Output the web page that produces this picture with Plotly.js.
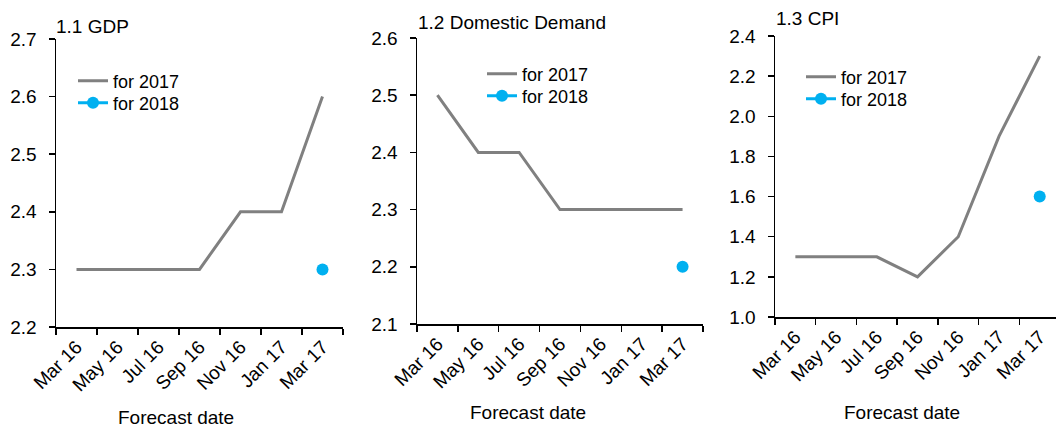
<!DOCTYPE html>
<html>
<head>
<meta charset="utf-8">
<script src="https://cdn.plot.ly/plotly-3.0.1.min.js"></script>
<style>html,body{margin:0;padding:0;background:#fff;}#chart{width:1056px;height:429px;}</style>
</head>
<body>
<div id="chart"></div>
<script>
const forecastDates = ["Mar 16","May 16","Jul 16","Sep 16","Nov 16","Jan 17","Mar 17"];
const panelTitles = ["1.1 GDP","1.2 Domestic Demand","1.3 CPI"];
const seriesNames = ["for 2017","for 2018"];
const gdp2017 = [2.3,2.3,2.3,2.3,2.4,2.4,2.6];
const gdp2018 = [null,null,null,null,null,null,2.3];
const dd2017 = [2.5,2.4,2.4,2.3,2.3,2.3,2.3];
const dd2018 = [null,null,null,null,null,null,2.2];
const cpi2017 = [1.3,1.3,1.3,1.2,1.4,1.9,2.3];
const cpi2018 = [null,null,null,null,null,null,1.6];

const W = 1056, H = 429;
const px = v => v / W;
const py = v => 1 - v / H;
const GRAY = "#808080", CYAN = "#00B0F0";
const FONT = "Liberation Sans, Arial, sans-serif";
const FS = 19;
const LFS = 18;

const panels = [
  {a17: gdp2017, a18: gdp2018, xd: [56, 343], yd: [39, 327], yr: [2.2, 2.7], dt: 0.1, xr: [-0.5, 6.5],
   tx: 54, ty: 27, lx: 79, ly: [81, 103], fx: 176, fy: 417},
  {a17: dd2017, a18: dd2018, xd: [417, 703], yd: [38, 324], yr: [2.1, 2.6], dt: 0.1, xr: [-0.5, 6.5],
   tx: 416, ty: 22, lx: 488, ly: [74, 96], fx: 528, fy: 412},
  {a17: cpi2017, a18: cpi2018, xd: [775, 1056], yd: [36, 317], yr: [1.0, 2.4], dt: 0.2, xr: [-0.5, 6.4],
   tx: 774, ty: 18, lx: 807, ly: [77, 99], fx: 902, fy: 412}
];

const data = [];
const layout = {
  width: W, height: H,
  margin: {l: 0, r: 0, t: 0, b: 0},
  paper_bgcolor: "#fff", plot_bgcolor: "#fff",
  font: {family: FONT, size: FS, color: "#000"},
  hovermode: false,
  showlegend: true,
  annotations: []
};

panels.forEach((p, i) => {
  const n = i === 0 ? "" : String(i + 1);
  const xa = "x" + n, ya = "y" + n;
  const lg1 = "legend" + (i === 0 ? "" : String(2 * i + 1));
  const lg2 = "legend" + String(2 * i + 2);
  data.push({
    x: forecastDates, y: p.a17, xaxis: xa, yaxis: ya, type: "scatter", mode: "lines",
    name: seriesNames[0], line: {color: GRAY, width: 3}, legend: lg1, showlegend: true
  });
  data.push({
    x: forecastDates, y: p.a18, xaxis: xa, yaxis: ya, type: "scatter", mode: "lines+markers",
    name: seriesNames[1], line: {color: CYAN, width: 3}, marker: {color: CYAN, size: 12}, legend: lg2, showlegend: true
  });
  layout["xaxis" + n] = {
    domain: [px(p.xd[0]), px(p.xd[1])], anchor: ya, type: "category",
    range: p.xr, tickson: "boundaries", ticks: "outside", ticklen: 6, tickwidth: 1.5,
    tickcolor: "#000", showline: true, linecolor: "#000", linewidth: 1.5,
    showgrid: false, zeroline: false, tickangle: -45,
    tickfont: {family: FONT, size: FS, color: "#000"}, fixedrange: true
  };
  layout["yaxis" + n] = {
    domain: [py(p.yd[1]), py(p.yd[0])], anchor: xa, range: p.yr, dtick: p.dt, tick0: 0,
    tickformat: ".1f", ticks: "outside", ticklen: 6, tickwidth: 1.5, tickcolor: "#000",
    showline: true, linecolor: "#000", linewidth: 1.5, showgrid: false, zeroline: false,
    tickfont: {family: FONT, size: FS, color: "#000"}, ticklabelstandoff: 8, fixedrange: true
  };
  [lg1, lg2].forEach((lg, k) => {
    layout[lg] = {
      x: px(p.lx - 6), y: py(p.ly[k]), xanchor: "left", yanchor: "middle",
      bgcolor: "rgba(0,0,0,0)", borderwidth: 0,
      font: {family: FONT, size: LFS, color: "#000"}
    };
  });
  layout.annotations.push({
    text: panelTitles[i], xref: "paper", yref: "paper", x: px(p.tx), y: py(p.ty),
    xanchor: "left", yanchor: "middle", showarrow: false,
    font: {family: FONT, size: FS, color: "#000"}
  });
  layout.annotations.push({
    text: "Forecast date", xref: "paper", yref: "paper", x: px(p.fx), y: py(p.fy),
    xanchor: "center", yanchor: "middle", showarrow: false,
    font: {family: FONT, size: FS, color: "#000"}
  });
});

Plotly.newPlot("chart", data, layout, {displayModeBar: false, staticPlot: true});
</script>
</body>
</html>
